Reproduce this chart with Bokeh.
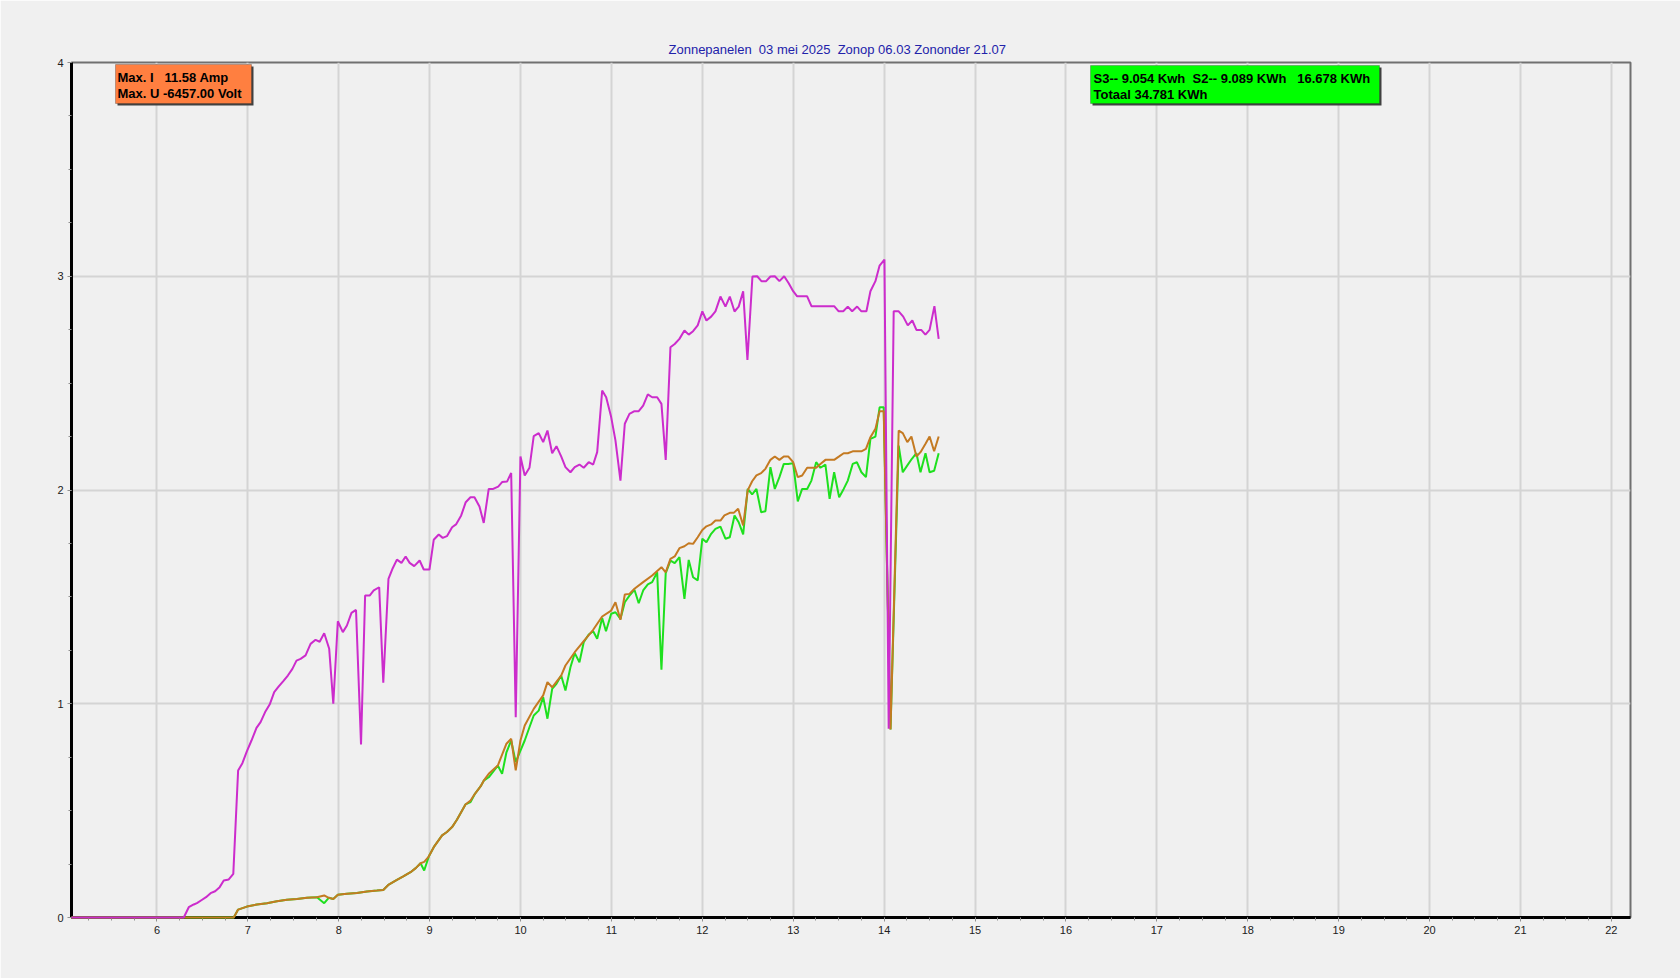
from bokeh.plotting import figure
from bokeh.models import Range1d, SingleIntervalTicker, Label, BoxAnnotation, ColumnDataSource
from bokeh.embed import file_html
from bokeh.resources import INLINE

# ---------------- data ----------------
NB = "\u00a0"
title_text = ("Zonnepanelen" + NB * 2 + "03" + NB + "mei 2025" + NB * 2 + "Zonop" + NB + "06.03"
              + NB + "Zononder 21.07")
box1_lines = ["Max. I" + NB * 3 + "11.58 Amp", "Max. U -6457.00 Volt"]
box2_lines = ["S3-- 9.054 Kwh" + NB * 2 + "S2-- 9.089 KWh" + NB * 3 + "16.678 KWh", "Totaal 34.781 KWh"]

x_ticks = list(range(6, 23))
y_ticks = [0, 1, 2, 3, 4]

mag_t = [5.06, 6.295, 6.35, 6.405, 6.44, 6.497, 6.54, 6.59, 6.64, 6.69, 6.735, 6.79, 6.84, 6.893, 6.94,
         6.99, 7.04, 7.095, 7.14, 7.19, 7.24, 7.29, 7.34, 7.39, 7.44, 7.49, 7.535, 7.58, 7.635, 7.69,
         7.745, 7.79, 7.84, 7.895, 7.94, 7.99, 8.045, 8.09, 8.14, 8.19, 8.245, 8.29, 8.34, 8.385, 8.445,
         8.49, 8.547, 8.594, 8.64, 8.69, 8.736, 8.78, 8.83, 8.89, 8.935, 8.998, 9.045, 9.10, 9.144, 9.19,
         9.247, 9.29, 9.347, 9.397, 9.449, 9.493, 9.548, 9.595, 9.65, 9.699, 9.754, 9.797, 9.853, 9.897,
         9.947, 9.999, 10.046, 10.098, 10.145, 10.2, 10.249, 10.296, 10.348, 10.395, 10.447, 10.494,
         10.549, 10.596, 10.648, 10.695, 10.75, 10.799, 10.843, 10.898, 10.942, 10.997, 11.044, 11.099,
         11.147, 11.198, 11.253, 11.3, 11.349, 11.4, 11.448, 11.503, 11.55, 11.597, 11.649, 11.696,
         11.748, 11.803, 11.85, 11.898, 11.949, 12.0, 12.045, 12.097, 12.144, 12.199, 12.254, 12.302,
         12.354, 12.4, 12.449, 12.496, 12.551, 12.603, 12.65, 12.702, 12.749, 12.797, 12.848, 12.9,
         12.95, 12.999, 13.043, 13.098, 13.153, 13.2, 13.26, 13.31, 13.36, 13.40, 13.45, 13.5, 13.55,
         13.6, 13.648, 13.703, 13.75, 13.805, 13.849, 13.904, 13.95, 14.003, 14.05, 14.105, 14.16,
         14.21, 14.26, 14.31, 14.355, 14.408, 14.454, 14.5, 14.553, 14.6]
mag_v = [0, 0, 0.048, 0.061, 0.067, 0.083, 0.095, 0.114, 0.123, 0.142, 0.173, 0.178, 0.204, 0.688, 0.722,
         0.778, 0.828, 0.887, 0.914, 0.961, 0.996, 1.054, 1.081, 1.106, 1.132, 1.163, 1.202, 1.21, 1.226,
         1.28, 1.299, 1.29, 1.33, 1.257, 1.0, 1.386, 1.335, 1.366, 1.425, 1.439, 0.809, 1.506, 1.506,
         1.53, 1.545, 1.098, 1.584, 1.634, 1.674, 1.659, 1.689, 1.659, 1.644, 1.670, 1.628, 1.628, 1.767,
         1.792, 1.776, 1.784, 1.826, 1.839, 1.881, 1.943, 1.966, 1.966, 1.923, 1.846, 2.005, 2.005, 2.016,
         2.037, 2.04, 2.08, 0.937, 2.157, 2.068, 2.104, 2.252, 2.266, 2.224, 2.278, 2.172, 2.205, 2.157,
         2.107, 2.083, 2.107, 2.119, 2.104, 2.13, 2.119, 2.177, 2.465, 2.434, 2.341, 2.232, 2.044, 2.31,
         2.356, 2.369, 2.369, 2.395, 2.447, 2.434, 2.434, 2.403, 2.141, 2.668, 2.683, 2.707, 2.746, 2.727,
         2.743, 2.77, 2.836, 2.793, 2.811, 2.836, 2.905, 2.858, 2.905, 2.835, 2.858, 2.93, 2.609, 2.999,
         3.0, 2.977, 2.977, 2.999, 3.0, 2.977, 3.0, 2.967, 2.93, 2.906, 2.906, 2.906, 2.86, 2.86, 2.86,
         2.86, 2.86, 2.86, 2.836, 2.836, 2.858, 2.836, 2.858, 2.836, 2.836, 2.93, 2.977, 3.05, 3.078,
         0.883, 2.836, 2.836, 2.811, 2.77, 2.793, 2.749, 2.749, 2.727, 2.749, 2.86, 2.707]

grn_t = [5.06, 6.845, 6.893, 6.99, 7.10, 7.21, 7.32, 7.43, 7.54, 7.65, 7.76, 7.84, 7.89, 7.94, 7.99, 8.09,
         8.2, 8.31, 8.42, 8.49, 8.55, 8.64, 8.71, 8.79, 8.85, 8.90, 8.94, 8.99, 9.045, 9.137, 9.19, 9.247,
         9.30, 9.394, 9.45, 9.5, 9.56, 9.595, 9.65, 9.75, 9.797, 9.845, 9.897, 9.947, 9.999, 10.046,
         10.098, 10.145, 10.2, 10.249, 10.296, 10.348, 10.395, 10.447, 10.494, 10.549, 10.596, 10.648,
         10.695, 10.75, 10.799, 10.843, 10.898, 10.94, 10.997, 11.044, 11.099, 11.147, 11.198, 11.253,
         11.3, 11.349, 11.4, 11.448, 11.503, 11.55, 11.597, 11.649, 11.696, 11.748, 11.803, 11.85,
         11.898, 11.949, 12.0, 12.045, 12.097, 12.144, 12.199, 12.254, 12.302, 12.354, 12.4, 12.449,
         12.499, 12.548, 12.595, 12.647, 12.694, 12.749, 12.797, 12.848, 12.896, 12.944, 12.999, 13.05,
         13.098, 13.153, 13.2, 13.252, 13.299, 13.354, 13.40, 13.45, 13.505, 13.555, 13.6, 13.654, 13.70,
         13.75, 13.80, 13.849, 13.904, 13.95, 13.995, 14.07, 14.16, 14.205, 14.255, 14.305, 14.355, 14.4,
         14.455, 14.5, 14.55, 14.6]
grn_v = [0, 0, 0.037, 0.051, 0.061, 0.067, 0.076, 0.083, 0.087, 0.092, 0.095, 0.067, 0.092, 0.087, 0.106,
         0.111, 0.115, 0.122, 0.126, 0.129, 0.154, 0.176, 0.192, 0.212, 0.232, 0.254, 0.22, 0.285, 0.329,
         0.384, 0.4, 0.423, 0.457, 0.529, 0.54, 0.58, 0.613, 0.64, 0.656, 0.711, 0.672, 0.773, 0.828,
         0.727, 0.781, 0.828, 0.89, 0.945, 0.968, 1.031, 0.93, 1.07, 1.093, 1.132, 1.062, 1.171, 1.237,
         1.194, 1.288, 1.324, 1.339, 1.304, 1.401, 1.339, 1.421, 1.428, 1.397, 1.475, 1.506, 1.533, 1.47,
         1.53, 1.558, 1.569, 1.615, 1.159, 1.611, 1.670, 1.658, 1.686, 1.491, 1.673, 1.592, 1.577, 1.772,
         1.756, 1.795, 1.818, 1.829, 1.772, 1.779, 1.881, 1.849, 1.792, 2.005, 1.979, 2.005, 1.896, 1.901,
         2.107, 2.005, 2.06, 2.122, 2.122, 2.125, 1.947, 2.005, 2.005, 2.044, 2.13, 2.104, 2.119, 1.959,
         2.083, 1.966, 2.005, 2.044, 2.122, 2.13, 2.083, 2.06, 2.239, 2.25, 2.387, 2.387, 0.88, 2.208,
         2.083, 2.115, 2.146, 2.172, 2.083, 2.172, 2.083, 2.09, 2.172]

brn_t = [5.06, 6.845, 6.893, 6.99, 7.10, 7.21, 7.32, 7.43, 7.54, 7.65, 7.76, 7.84, 7.89, 7.94, 7.99, 8.09,
         8.2, 8.31, 8.42, 8.49, 8.55, 8.64, 8.71, 8.79, 8.85, 8.90, 8.94, 8.99, 9.045, 9.137, 9.19, 9.247,
         9.30, 9.394, 9.45, 9.5, 9.56, 9.595, 9.65, 9.75, 9.845, 9.897, 9.947, 9.999, 10.046, 10.145,
         10.249, 10.296, 10.348, 10.447, 10.494, 10.596, 10.695, 10.799, 10.898, 10.997, 11.044, 11.099,
         11.147, 11.198, 11.253, 11.349, 11.448, 11.55, 11.597, 11.649, 11.696, 11.748, 11.803, 11.85,
         11.898, 11.949, 12.0, 12.045, 12.097, 12.144, 12.199, 12.243, 12.302, 12.345, 12.394, 12.449,
         12.499, 12.548, 12.595, 12.647, 12.694, 12.749, 12.797, 12.848, 12.896, 12.944, 12.999, 13.05,
         13.098, 13.153, 13.2, 13.252, 13.299, 13.354, 13.40, 13.45, 13.505, 13.555, 13.6, 13.654, 13.70,
         13.75, 13.80, 13.849, 13.904, 13.95, 13.995, 14.07, 14.16, 14.205, 14.255, 14.3, 14.355, 14.4,
         14.455, 14.5, 14.55, 14.6]
brn_v = [0, 0, 0.037, 0.051, 0.061, 0.067, 0.076, 0.083, 0.087, 0.092, 0.095, 0.103, 0.092, 0.087, 0.106,
         0.111, 0.115, 0.122, 0.126, 0.129, 0.154, 0.176, 0.192, 0.212, 0.232, 0.254, 0.26, 0.285, 0.329,
         0.384, 0.4, 0.423, 0.457, 0.529, 0.547, 0.58, 0.613, 0.64, 0.672, 0.711, 0.813, 0.836, 0.688,
         0.828, 0.898, 0.976, 1.039, 1.101, 1.077, 1.132, 1.179, 1.241, 1.293, 1.346, 1.408, 1.436, 1.475,
         1.393, 1.511, 1.514, 1.538, 1.569, 1.6, 1.639, 1.615, 1.678, 1.689, 1.728, 1.737, 1.751, 1.748,
         1.779, 1.813, 1.83, 1.839, 1.857, 1.857, 1.881, 1.893, 1.893, 1.912, 1.834, 1.998, 2.041, 2.068,
         2.079, 2.099, 2.141, 2.157, 2.141, 2.157, 2.157, 2.13, 2.06, 2.068, 2.104, 2.104, 2.104, 2.122,
         2.141, 2.141, 2.141, 2.157, 2.172, 2.172, 2.181, 2.181, 2.181, 2.192, 2.247, 2.286, 2.369, 2.369,
         0.88, 2.278, 2.266, 2.224, 2.25, 2.157, 2.177, 2.216, 2.25, 2.181, 2.25]

# ---------------- layout ----------------
FONT = "Liberation Sans"
X0 = 5.06
PXH = 90.9                  # pixels per hour
FRAME_L, FRAME_T, FRAME_W, FRAME_H = 71, 62, 1559, 855
W, H = 1680, 978
X1 = X0 + FRAME_W / PXH
PXV = FRAME_H / 4.0
FRAME_B = FRAME_T + FRAME_H


def dx(px):
    return X0 + (px - FRAME_L) / PXH


def dy(py):
    return (FRAME_B - py) / PXV


p = figure(width=W, height=H, output_backend="svg", toolbar_location=None,
           x_range=Range1d(X0, X1), y_range=Range1d(0, 4),
           min_border_left=FRAME_L, min_border_right=W - FRAME_L - FRAME_W,
           min_border_top=FRAME_T, min_border_bottom=H - FRAME_B)

p.background_fill_color = "#f0f0f0"
p.border_fill_color = "#f0f0f0"
p.outline_line_color = "#707070"
p.outline_line_width = 2

p.title.text = title_text
p.title.align = "left"
p.title.offset = 597
p.title.standoff = 12
p.title.text_font = FONT
p.title.text_font_size = "13px"
p.title.text_font_style = "normal"
p.title.text_color = "#2222aa"

for ax in (p.xaxis[0], p.yaxis[0]):
    ax.ticker = SingleIntervalTicker(interval=1, num_minor_ticks=4)
    ax.axis_line_color = "black"
    ax.axis_line_width = 3
    ax.major_tick_in = 0
    ax.major_tick_out = 4
    ax.minor_tick_in = 0
    ax.minor_tick_out = 3
    ax.major_tick_line_color = "#909090"
    ax.minor_tick_line_color = "#909090"
    ax.major_label_text_font = FONT
    ax.major_label_text_font_size = "11px"
    ax.major_label_text_color = "#202020"
    ax.major_label_standoff = 4

p.xaxis[0].major_label_overrides = {t: str(t) for t in x_ticks}
p.yaxis[0].major_label_overrides = {t: str(t) for t in y_ticks}

for g in (p.xgrid[0], p.ygrid[0]):
    g.grid_line_color = "#d4d4d4"
    g.grid_line_width = 2
    g.ticker = SingleIntervalTicker(interval=1)

src_g = ColumnDataSource(dict(t=grn_t, v=grn_v))
src_b = ColumnDataSource(dict(t=brn_t, v=brn_v))
src_m = ColumnDataSource(dict(t=mag_t, v=mag_v))
p.line("t", "v", source=src_g, line_color="#1ee01e", line_width=2, level="overlay")
p.line("t", "v", source=src_b, line_color="#c47a22", line_width=2, level="overlay")
p.line("t", "v", source=src_m, line_color="#cc2ccc", line_width=2, level="overlay")


def info_box(left, top, right, bottom, fill, lines, tx):
    p.add_layout(BoxAnnotation(left=dx(left + 2), right=dx(right + 2), top=dy(top + 2), bottom=dy(bottom + 2),
                               fill_color="#404040", fill_alpha=1, line_color=None, level="overlay"))
    p.add_layout(BoxAnnotation(left=dx(left), right=dx(right), top=dy(top), bottom=dy(bottom),
                               fill_color=fill, fill_alpha=1, line_color="#303030", line_width=1,
                               level="overlay"))
    for i, s in enumerate(lines):
        p.add_layout(Label(x=dx(tx), y=dy(top + 12.5 + 16.6 * i), text=s, text_align="left",
                           text_baseline="middle", text_font=FONT, text_font_size="13px",
                           text_font_style="bold", text_color="black", level="overlay"))


info_box(115, 64, 251, 103, "#ff7f40", box1_lines, 117)
info_box(1090, 65, 1379, 103, "#00ff00", box2_lines, 1093)

open("out.html", "w").write(file_html(p, INLINE))
